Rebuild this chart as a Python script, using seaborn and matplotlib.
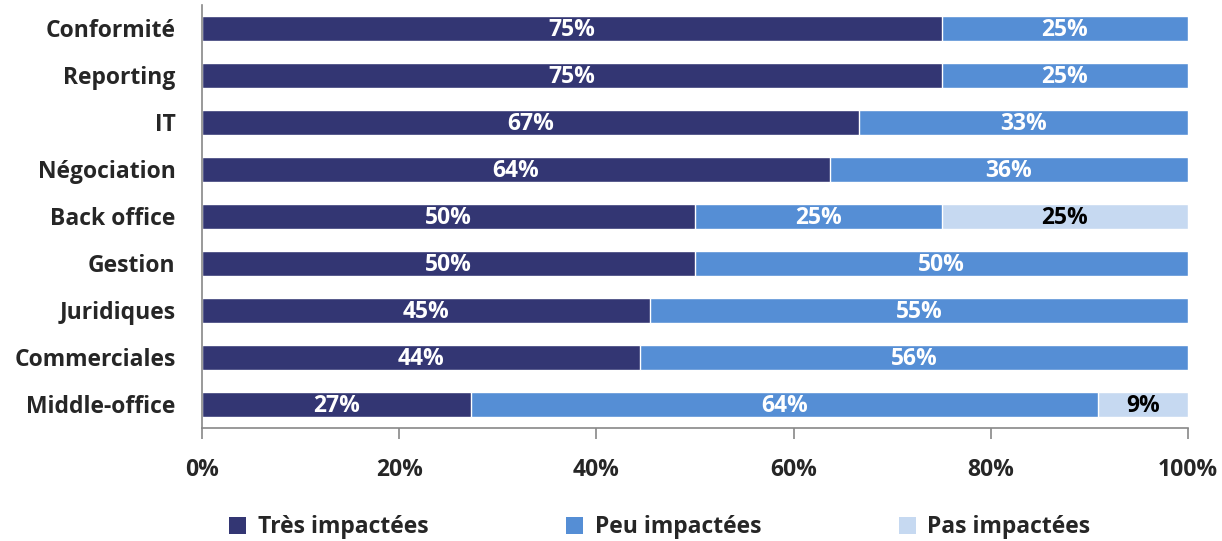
import matplotlib
matplotlib.use("Agg")
import matplotlib.pyplot as plt
import seaborn as sns
import numpy as np
from matplotlib.patches import Patch

# données (en %)
categories = ['Conformité', 'Reporting', 'IT', 'Négociation', 'Back office',
              'Gestion', 'Juridiques', 'Commerciales', 'Middle-office']
tres = [75, 75, 66.67, 63.64, 50, 50, 45.45, 44.44, 27.27]
peu = [25, 25, 33.33, 36.36, 25, 50, 54.55, 55.56, 63.64]
pas = [0, 0, 0, 0, 25, 0, 0, 0, 9.09]
series_names = ['Très impactées', 'Peu impactées', 'Pas impactées']

c_tres = '#333673'
c_peu = '#558ED5'
c_pas = '#C6D9F1'

sns.set_style("white")
plt.rcParams['font.family'] = ['Open Sans', 'DejaVu Sans']
plt.rcParams['font.weight'] = 'bold'

fig = plt.figure(figsize=(12.22, 5.41), dpi=100)
ax = fig.add_axes([0.1653, 0.209, 0.9722 - 0.1653, 0.782])

tres_a = np.array(tres)
peu_a = np.array(peu)
pas_a = np.array(pas)
cum2 = tres_a + peu_a
cum3 = cum2 + pas_a

w = 0.52
sns.barplot(x=cum3, y=categories, color=c_pas, orient='h', width=w, ax=ax, saturation=1)
sns.barplot(x=cum2, y=categories, color=c_peu, orient='h', width=w, ax=ax, saturation=1)
sns.barplot(x=tres_a, y=categories, color=c_tres, orient='h', width=w, ax=ax, saturation=1)

fs = 16.5
for i in range(len(categories)):
    segs = [(0, tres_a[i], 'white'), (tres_a[i], peu_a[i], 'white'), (cum2[i], pas_a[i], 'black')]
    for start, val, col in segs:
        if val > 0:
            ax.text(start + val / 2, i + 0.03, f'{round(val)}%', ha='center', va='center',
                    color=col, fontsize=fs, fontweight='bold')

ax.set_xlim(0, 100)
ax.set_ylim(len(categories) - 0.5, -0.5)
ax.set_xticks(range(0, 101, 20))
ax.set_xticklabels([f'{t}%' for t in range(0, 101, 20)], fontsize=fs, fontweight='bold')
ax.tick_params(axis='x', direction='out', length=8, width=1.2, color='#888888', pad=14, bottom=True)
ax.tick_params(axis='y', length=0, pad=19, labelsize=fs)
for lab in ax.get_yticklabels():
    lab.set_fontweight('bold')
ax.set_xlabel('')
ax.set_ylabel('')
for s in ['top', 'right']:
    ax.spines[s].set_visible(False)
for s in ['left', 'bottom']:
    ax.spines[s].set_color('#888888')
    ax.spines[s].set_linewidth(1.2)

handles = [Patch(facecolor=c, edgecolor='none') for c in [c_tres, c_peu, c_pas]]
fig.legend(handles, series_names, loc='lower center', bbox_to_anchor=(0.54, -0.035), ncol=3,
           frameon=False, prop={'size': fs, 'weight': 'bold'}, handlelength=0.75, handleheight=0.75,
           handletextpad=0.5, columnspacing=6.0)

fig.savefig('out.png', dpi=100)
